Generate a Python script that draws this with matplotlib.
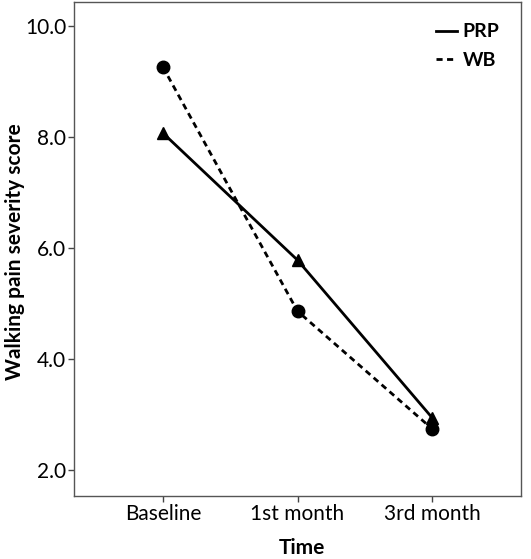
import matplotlib
matplotlib.use("Agg")
import matplotlib.pyplot as plt

times = ["Baseline", "1st month", "3rd month"]
prp = [8.07, 5.78, 2.94]
wb = [9.26, 4.86, 2.74]
yticks = [2.0, 4.0, 6.0, 8.0, 10.0]

plt.rcParams['font.family'] = ['Lato', 'DejaVu Sans']

fig = plt.figure(figsize=(5.31, 5.59), dpi=100)
ax = fig.add_axes([74/531, 1 - 496/559, (521-74)/531, (496-2)/559])

x = list(range(len(times)))
ax.plot(x, prp, color='black', lw=2, ls='-', marker='^', ms=8, label='PRP')
ax.plot(x, wb, color='black', lw=2, ls=(0, (2.2, 1.6)), marker='o', ms=9, label='WB')

ax.set_xlim(-0.66, 2.66)
ax.set_ylim(1.53, 10.43)
ax.set_xticks(x)
ax.set_xticklabels(times, fontsize=15)
ax.set_yticks(yticks)
ax.set_yticklabels([f"{v:.1f}" for v in yticks], fontsize=15)
ax.tick_params(direction='out', length=4, width=1, color='#444444', pad=1.5)
for s in ax.spines.values():
    s.set_color('#555555')
    s.set_linewidth(1)

fig.text(302/531, 1 - 548/559, "Time", fontsize=15, fontweight='bold',
         ha='center', va='center')
fig.text(15/531, 1 - 252/559, "Walking pain severity score", fontsize=15,
         fontweight='bold', ha='center', va='center', rotation=90)

leg = ax.legend(handles=[
    plt.Line2D([], [], color='black', lw=2, ls='-'),
    plt.Line2D([], [], color='black', lw=2, ls=(0, (2.2, 1.6))),
], labels=['PRP', 'WB'], loc='upper right', frameon=False,
    prop={'weight': 'bold', 'size': 14}, handlelength=1.1, handletextpad=0.3,
    labelspacing=0.6, borderaxespad=0.7)

fig.savefig("out.png", dpi=100)
